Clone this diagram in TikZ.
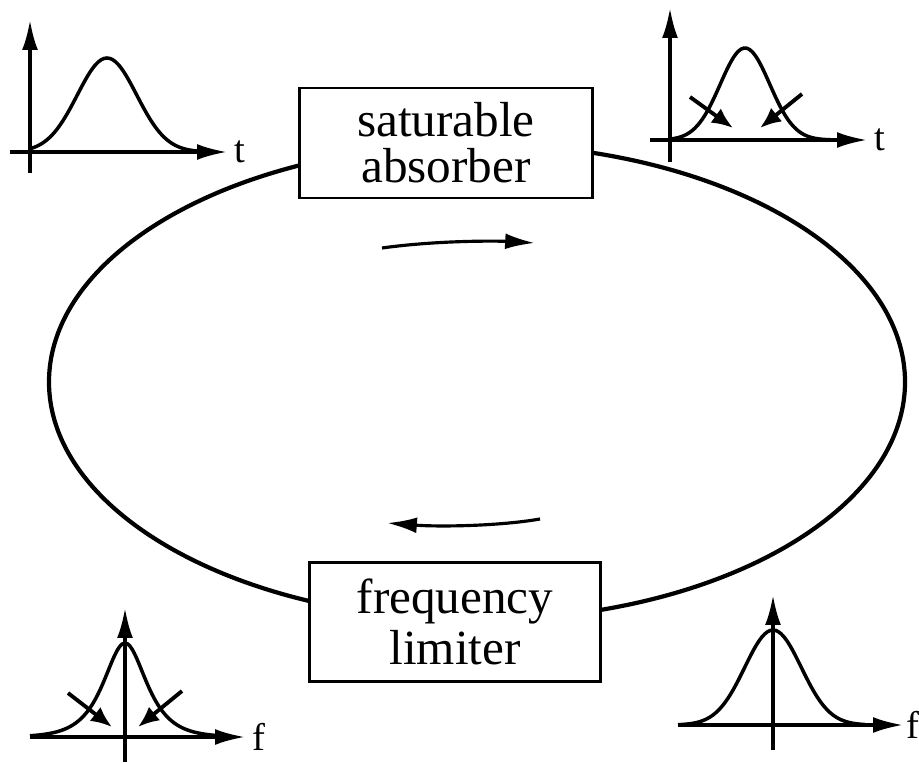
\documentclass[tikz,border=0pt]{standalone}
\usepackage{fontspec}
\setmainfont{Liberation Serif}
\usetikzlibrary{arrows.meta,positioning}
\tikzset{
  loop box/.style={draw, line width=1.4pt, fill=white, align=center,
    font=\fontsize{28}{26}\selectfont, inner sep=0pt},
  loop line/.style={line width=2.4pt},
  flow arrow/.style={-{Latex[length=17pt,width=9pt]}, line width=1.8pt},
  plot axis/.style={-{Latex[length=17pt,width=9pt]}, line width=1.8pt},
  plot curve/.style={line width=2pt, smooth},
  plot arrow/.style={-{Latex[length=12pt,width=10pt]}, line width=2.2pt},
  plot label/.style={font=\fontsize{22}{24}\selectfont}
}
\begin{document}
\begin{tikzpicture}[x=0.02cm,y=-0.02cm]
  \useasboundingbox (0,0) rectangle (919,763);
  % the cavity loop
  \coordinate (loop) at (477,382);
  \draw[loop line] (loop) ellipse [x radius=428, y radius=238];
  \node[loop box, minimum width=5.86cm, minimum height=2.2cm] (absorber) at (446,143)
    {saturable\\absorber};
  \node[loop box, minimum width=5.82cm, minimum height=2.38cm] (limiter) at (455,622)
    {frequency\\[3pt]limiter};
  % direction of travel
  \coordinate (upper start) at (382,248);
  \coordinate (upper end) at (535,243);
  \coordinate (lower start) at (540,519);
  \coordinate (lower end) at (387,523);
  \draw[flow arrow] (upper start) .. controls (440,240) and (500,241) .. (upper end);
  \draw[flow arrow] (lower start) .. controls (500,526) and (440,527) .. (lower end);
  \begin{scope}[shift={(30,152)}]
    \draw[plot axis] (0,21) -- (0,-132);
    \draw[plot axis] (-20,0) -- (197,0) node[plot label, right] (t in) {t};
    \draw[plot curve, domain=0:168, samples=60] plot (\x,{-94*exp(-((\x-77)/42)^2)});
  \end{scope}
  \begin{scope}[shift={(670,140)}]
    \draw[plot axis] (0,22) -- (0,-132);
    \draw[plot axis] (-20,0) -- (197,0) node[plot label, right] (t out) {t};
    \draw[plot curve, domain=0:162, samples=60] plot (\x,{-92*exp(-((\x-75)/35)^2)});
    \draw[plot arrow] (20,-43) -- (63,-12);
    \draw[plot arrow] (132,-46) -- (90,-12);
  \end{scope}
  \begin{scope}[shift={(125,737)}]
    \draw[plot axis] (0,25) -- (0,-129);
    \draw[plot axis] (-95,0) -- (120,0) node[plot label, right] (f out) {f};
    \draw[plot curve, domain=-95:92, samples=70] plot (\x,{-94/cosh(\x/19)});
    \draw[plot arrow] (-57,-44) -- (-13,-10);
    \draw[plot arrow] (57,-46) -- (13,-10);
  \end{scope}
  \begin{scope}[shift={(773,725)}]
    \draw[plot axis] (0,25) -- (0,-130);
    \draw[plot axis] (-95,0) -- (130,0) node[plot label, right, inner sep=1pt] (f in) {f};
    \draw[plot curve, domain=-95:92, samples=70] plot (\x,{-95*exp(-(\x/40)^2)});
  \end{scope}
\end{tikzpicture}
\end{document}
